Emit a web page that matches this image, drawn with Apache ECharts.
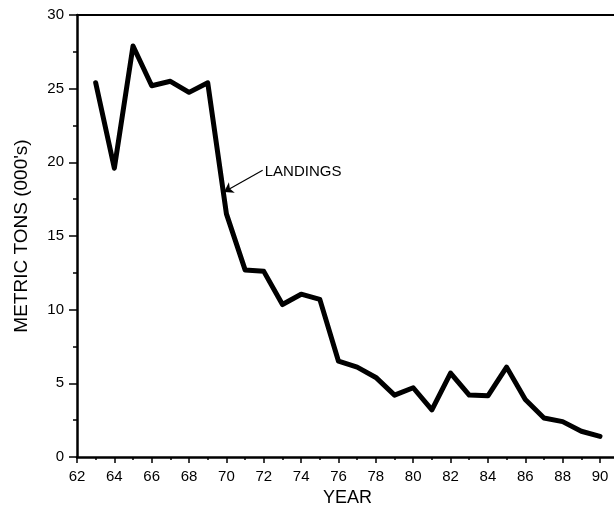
<!DOCTYPE html>
<html>
<head>
<meta charset="utf-8">
<script src="https://cdn.jsdelivr.net/npm/echarts@6/dist/echarts.min.js"></script>
<style>
html,body{margin:0;padding:0;background:#fff;}
#c{width:614px;height:512px;}
</style>
</head>
<body>
<div id="c"></div>
<script>
var years = [63,64,65,66,67,68,69,70,71,72,73,74,75,76,77,78,79,80,81,82,83,84,85,86,87,88,89,90];
var landings = [25.4,19.6,27.9,25.2,25.5,24.75,25.4,16.5,12.7,12.6,10.35,11.05,10.7,6.5,6.1,5.4,4.2,4.7,3.2,5.7,4.2,4.15,6.1,3.9,2.65,2.4,1.75,1.4];
var majorYears = [62,64,66,68,70,72,74,76,78,80,82,84,86,88,90];
var minorYears = [63,65,67,69,71,73,75,77,79,81,83,85,87,89];
var yTicks = [0,5,10,15,20,25,30];
var annotationText = 'LANDINGS';
var arrowFrom = [71.94, 19.46];
var arrowTo = [69.87, 17.99];
var labelAt = [72.05, 19.35];

var FONT = "'Liberation Sans', Arial, sans-serif";
var chart = echarts.init(document.getElementById('c'), null, {renderer:'canvas'});
var pts = years.map(function(y,i){return [y, landings[i]];});

chart.setOption({
  animation:false,
  backgroundColor:'#ffffff',
  grid:{left:77, right:0, top:15, bottom:55, containLabel:false},
  xAxis:[{
    type:'value', min:62, max:90.75,
    name:'YEAR', nameLocation:'middle', nameGap:30,
    nameTextStyle:{fontFamily:FONT, fontSize:18, color:'#000', padding:[0,0,0,4]},
    axisLine:{show:true, lineStyle:{color:'#000', width:2.5}},
    axisTick:{show:true, length:6, customValues:majorYears, lineStyle:{color:'#000', width:1.5}},
    axisLabel:{show:true, customValues:majorYears, margin:12, fontFamily:FONT, fontSize:15, color:'#000'},
    splitLine:{show:false}
  },{
    type:'value', min:62, max:90.75, position:'bottom',
    axisLine:{show:false},
    axisTick:{show:true, length:3, customValues:minorYears, lineStyle:{color:'#000', width:1.5}},
    axisLabel:{show:false},
    splitLine:{show:false}
  },{
    type:'value', min:62, max:90.75, position:'top',
    axisLine:{show:true, lineStyle:{color:'#000', width:2}},
    axisTick:{show:false}, axisLabel:{show:false}, splitLine:{show:false}
  }],
  yAxis:{
    type:'value', min:0, max:30, interval:5,
    name:"METRIC TONS (000's)", nameLocation:'middle', nameGap:46, nameRotate:90,
    nameTextStyle:{fontFamily:FONT, fontSize:19, color:'#000'},
    axisLine:{show:true, lineStyle:{color:'#000', width:2.5}},
    axisTick:{show:true, length:8, lineStyle:{color:'#000', width:1.5}},
    minorTick:{show:true, splitNumber:2, length:4, lineStyle:{color:'#000', width:1.5}},
    axisLabel:{margin:13, fontFamily:FONT, fontSize:15, color:'#000',
      formatter:function(v){return yTicks.indexOf(v)>=0 ? String(v) : '';}},
    splitLine:{show:false}
  },
  series:[{
    type:'line', xAxisIndex:0, data:pts, symbol:'none',
    lineStyle:{color:'#000', width:5, join:'round', cap:'round'},
    markLine:{
      silent:true, symbolSize:9,
      lineStyle:{color:'#000', width:1.2, type:'solid'},
      label:{show:false},
      data:[[{coord:arrowFrom, symbol:'none'},{coord:arrowTo, symbol:'arrow'}]]
    },
    markPoint:{
      silent:true,
      data:[{coord:labelAt, symbol:'circle', symbolSize:0,
        label:{show:true, position:'right', distance:0, formatter:annotationText,
          fontFamily:FONT, fontSize:15, color:'#000'}}]
    }
  }]
});
</script>
</body>
</html>
